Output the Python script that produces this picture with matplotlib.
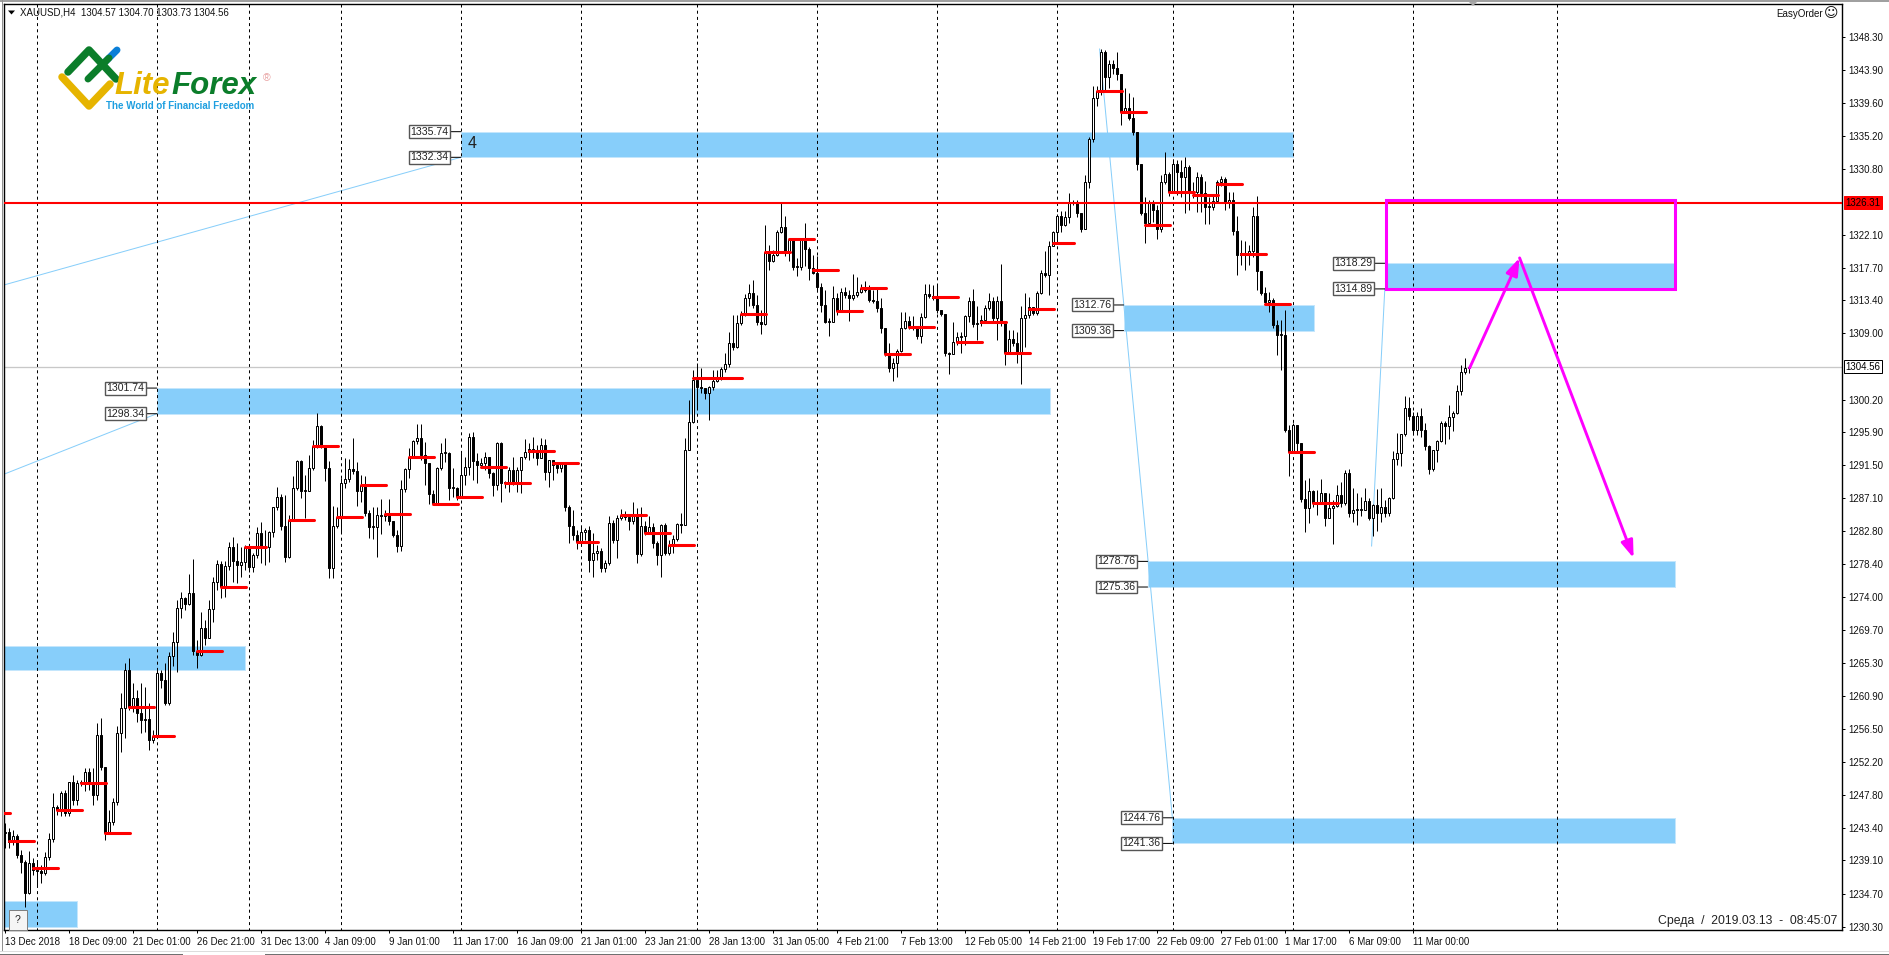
import matplotlib
matplotlib.use("Agg")
import matplotlib.pyplot as plt
from matplotlib.patches import Rectangle, Polygon

plt.rcParams['font.family'] = ['Liberation Sans', 'DejaVu Sans']

# H4 candles, one value per bar, oldest first
closes = [
    1242.9,1241.6,1242.3,1239.8,1238.9,1234.8,1238.8,1237.8,1237.7,1237.4,
    1239.6,1241.9,1246.2,1245.8,1248.0,1245.4,1249.5,1247.1,1249.4,1249.4,
    1250.8,1249.5,1247.8,1255.7,1251.5,1242.7,1244.2,1246.9,1256.0,1259.3,
    1264.4,1259.5,1260.6,1258.6,1257.7,1257.9,1255.1,1255.6,1264.0,1263.0,
    1260.0,1266.2,1268.1,1272.6,1273.9,1273.1,1274.6,1266.9,1266.3,1269.9,
    1268.6,1272.4,1276.0,1278.4,1275.4,1278.2,1280.7,1278.8,1278.3,1278.7,
    1280.7,1278.0,1279.6,1282.5,1280.7,1280.7,1282.7,1286.0,1287.3,1283.4,
    1279.3,1284.2,1288.5,1292.1,1288.1,1288.1,1291.1,1294.1,1296.7,1294.1,
    1291.1,1277.9,1283.4,1284.6,1289.2,1289.7,1291.0,1290.7,1288.1,1288.9,
    1285.2,1283.3,1283.3,1284.9,1284.8,1285.0,1284.1,1282.3,1280.8,1288.4,
    1291.0,1292.6,1294.7,1295.1,1292.9,1291.8,1287.7,1286.5,1291.1,1293.1,
    1293.1,1288.5,1288.5,1287.3,1290.2,1291.3,1295.3,1292.1,1291.5,1291.8,
    1292.6,1290.5,1288.9,1294.5,1289.2,1289.2,1290.9,1289.3,1290.9,1292.6,
    1293.3,1293.7,1293.3,1292.5,1294.2,1290.6,1292.2,1291.5,1291.1,1291.8,
    1286.0,1283.4,1282.3,1281.3,1282.7,1282.9,1278.9,1279.9,1280.1,1277.9,
    1278.5,1283.8,1281.6,1284.5,1284.9,1284.6,1284.1,1284.9,1279.7,1283.4,
    1282.6,1283.3,1281.2,1279.6,1283.6,1279.9,1280.9,1281.7,1283.7,1283.6,
    1293.5,1297.2,1302.8,1301.9,1301.7,1301.1,1301.9,1302.7,1303.2,1304.3,
    1304.9,1307.7,1307.2,1310.4,1311.6,1313.7,1314.3,1312.8,1310.5,1310.2,
    1319.8,1318.6,1319.4,1322.4,1323.1,1319.8,1321.4,1317.8,1317.8,1321.4,
    1320.2,1317.7,1317.0,1315.1,1312.8,1310.5,1310.5,1313.7,1312.0,1314.5,
    1314.1,1313.7,1314.1,1314.5,1315.0,1314.7,1313.4,1313.3,1312.4,1309.7,
    1306.4,1304.4,1305.1,1306.7,1309.7,1310.6,1310.0,1309.8,1308.6,1311.2,
    1314.2,1314.0,1313.7,1312.1,1311.6,1306.4,1306.3,1307.9,1308.5,1308.6,
    1311.3,1313.3,1310.2,1310.4,1310.8,1312.4,1313.3,1311.0,1313.3,1310.5,
    1306.4,1308.2,1307.7,1306.4,1311.0,1311.4,1312.5,1311.7,1314.3,1317.0,
    1316.7,1320.6,1322.4,1324.6,1323.4,1324.4,1326.3,1326.4,1324.9,1322.8,
    1329.1,1334.8,1340.2,1341.1,1346.3,1343.0,1344.7,1344.2,1343.4,1338.3,
    1338.9,1337.6,1335.7,1331.5,1324.9,1323.6,1326.4,1325.4,1322.8,1329.1,
    1330.1,1327.7,1331.5,1330.4,1329.7,1331.1,1327.7,1327.7,1329.7,1327.6,
    1325.8,1325.8,1326.5,1329.1,1329.5,1326.4,1326.7,1322.6,1319.4,1319.7,
    1319.4,1319.9,1324.6,1317.3,1314.3,1313.2,1313.4,1310.1,1308.8,1308.8,
    1296.2,1293.3,1296.8,1294.4,1287.0,1285.8,1288.1,1286.5,1286.4,1287.8,
    1284.5,1285.8,1286.1,1287.6,1286.5,1290.5,1285.2,1285.6,1285.6,1285.6,
    1286.8,1284.5,1286.2,1285.2,1286.0,1285.2,1287.2,1292.3,1293.1,1295.6,
    1299.1,1298.0,1296.2,1298.0,1296.2,1294.1,1291.0,1293.5,1294.7,1297.1,
    1296.7,1297.9,1298.4,1301.4,1303.9,1304.4,1304.56]
highs = [
    1244.1,1243.4,1243.1,1242.6,1240.5,1239.2,1240.4,1239.4,1239.2,1238.5,
    1240.2,1242.7,1248.0,1246.5,1248.3,1248.4,1249.5,1250.4,1249.8,1249.8,
    1251.4,1251.4,1251.4,1257.3,1258.0,1251.5,1245.8,1247.4,1256.9,1261.3,
    1265.3,1265.9,1262.6,1261.7,1262.6,1262.1,1260.0,1256.4,1264.4,1264.4,
    1265.3,1266.7,1269.4,1273.6,1274.7,1274.0,1277.1,1279.1,1268.3,1272.0,
    1271.0,1273.6,1276.7,1278.9,1278.8,1278.8,1281.3,1282.0,1281.2,1280.7,
    1280.9,1280.5,1279.9,1283.3,1284.0,1282.9,1282.8,1286.0,1288.6,1287.7,
    1287.6,1284.9,1290.1,1292.2,1292.2,1290.2,1292.9,1294.9,1298.4,1296.8,
    1294.2,1292.1,1286.1,1286.0,1289.8,1292.5,1292.3,1295.1,1291.9,1290.2,
    1290.1,1285.6,1286.0,1286.0,1287.0,1285.6,1287.0,1284.1,1282.9,1289.6,
    1291.1,1293.8,1294.9,1297.0,1297.0,1294.6,1291.8,1288.2,1291.3,1294.4,
    1295.1,1293.3,1291.1,1288.6,1293.1,1292.6,1295.8,1295.9,1293.1,1292.5,
    1293.3,1292.6,1290.6,1294.6,1294.6,1289.4,1291.3,1292.6,1291.3,1292.6,
    1295.0,1294.5,1295.3,1294.2,1295.1,1295.0,1292.2,1292.2,1291.7,1291.8,
    1291.8,1286.2,1285.6,1282.9,1283.5,1283.2,1283.5,1282.5,1280.9,1280.5,
    1278.9,1284.8,1284.2,1284.9,1285.7,1285.4,1284.8,1286.6,1285.8,1286.0,
    1284.1,1284.8,1283.9,1281.5,1283.7,1283.9,1281.6,1282.3,1283.9,1285.2,
    1295.1,1300.2,1304.1,1305.1,1304.4,1301.7,1302.0,1304.1,1304.1,1304.5,
    1306.4,1309.2,1311.4,1311.4,1312.0,1314.2,1315.5,1316.1,1314.1,1312.1,
    1323.4,1320.7,1320.0,1322.7,1326.3,1324.6,1321.6,1321.0,1319.0,1321.6,
    1323.6,1320.4,1319.4,1319.3,1315.7,1314.7,1311.0,1315.3,1314.3,1315.0,
    1315.1,1314.7,1316.9,1316.5,1315.5,1315.9,1315.4,1314.7,1314.9,1313.7,
    1309.7,1307.7,1305.7,1306.9,1311.8,1311.8,1311.3,1311.3,1310.0,1311.7,
    1315.5,1315.5,1315.4,1315.4,1312.1,1311.6,1306.5,1310.5,1309.2,1309.2,
    1311.4,1313.8,1314.9,1312.6,1311.4,1312.8,1314.3,1313.8,1313.9,1318.2,
    1310.5,1309.4,1309.4,1309.2,1312.6,1314.3,1313.8,1312.5,1314.6,1317.4,
    1319.9,1321.2,1322.6,1324.8,1325.2,1325.2,1327.6,1326.7,1326.7,1324.9,
    1330.0,1335.0,1341.8,1341.8,1346.7,1346.6,1345.2,1345.2,1346.3,1343.4,
    1341.5,1340.9,1340.3,1335.7,1331.5,1327.1,1326.7,1326.7,1326.0,1330.0,
    1333.0,1330.4,1332.1,1332.0,1332.0,1332.4,1331.3,1329.1,1330.4,1330.1,
    1329.2,1327.1,1327.3,1329.3,1329.9,1329.7,1327.7,1327.7,1324.6,1321.4,
    1321.2,1320.7,1325.8,1327.2,1317.3,1315.1,1314.5,1313.7,1310.8,1310.8,
    1312.1,1296.8,1297.1,1296.8,1294.4,1289.5,1289.8,1288.2,1288.2,1289.7,
    1287.8,1287.8,1286.9,1288.9,1289.3,1290.9,1291.0,1288.5,1287.8,1287.3,
    1288.5,1287.1,1286.4,1288.4,1288.5,1286.9,1287.3,1293.4,1295.8,1295.6,
    1300.7,1300.6,1298.6,1298.6,1299.1,1297.1,1294.2,1293.5,1294.9,1297.4,
    1297.4,1299.5,1298.7,1302.1,1304.8,1305.7,1304.70]
lows = [
    1240.8,1240.8,1241.2,1239.4,1237.4,1232.9,1234.7,1237.2,1235.6,1236.1,
    1237.2,1239.2,1241.5,1245.1,1245.0,1245.0,1245.0,1246.4,1246.4,1249.0,
    1248.3,1248.4,1246.4,1247.1,1251.1,1241.8,1243.1,1243.8,1246.4,1253.5,
    1255.3,1259.1,1258.8,1257.5,1256.0,1256.1,1253.7,1254.7,1256.9,1262.0,
    1259.7,1259.7,1264.9,1264.1,1271.2,1272.3,1273.0,1266.3,1264.6,1266.2,
    1267.7,1270.6,1270.7,1275.0,1273.9,1274.0,1277.6,1276.0,1275.9,1276.7,
    1277.6,1277.4,1277.4,1279.2,1278.5,1278.3,1278.7,1282.0,1285.6,1282.9,
    1278.7,1279.2,1286.2,1288.2,1287.2,1284.5,1288.2,1290.9,1293.8,1293.8,
    1289.4,1276.6,1276.6,1283.2,1282.5,1288.5,1289.3,1290.3,1286.1,1286.6,
    1284.8,1281.9,1281.7,1279.3,1282.4,1284.1,1283.6,1282.0,1280.0,1280.1,
    1287.9,1289.8,1292.7,1294.3,1292.2,1288.9,1286.4,1286.4,1286.2,1290.9,
    1291.9,1286.9,1287.3,1286.9,1287.2,1288.9,1290.2,1289.5,1289.2,1291.1,
    1290.9,1289.8,1287.4,1288.2,1286.6,1288.5,1287.9,1288.9,1287.9,1287.8,
    1292.3,1292.2,1292.5,1291.5,1292.5,1289.5,1288.6,1289.5,1290.5,1290.6,
    1285.4,1281.2,1281.6,1280.4,1280.9,1281.6,1277.4,1276.7,1278.9,1277.4,
    1277.4,1278.3,1281.2,1279.2,1284.2,1284.2,1282.9,1283.7,1278.5,1279.5,
    1282.3,1282.5,1280.5,1278.3,1276.7,1279.6,1279.6,1279.9,1281.5,1282.5,
    1283.6,1293.5,1297.1,1299.1,1301.1,1300.3,1297.5,1301.5,1302.5,1302.8,
    1303.9,1304.5,1306.8,1307.1,1310.1,1311.3,1312.6,1312.4,1310.1,1308.9,
    1310.1,1317.4,1318.5,1319.3,1322.3,1319.3,1318.6,1317.4,1316.6,1317.4,
    1317.9,1316.1,1316.9,1314.7,1311.8,1310.4,1308.6,1310.5,1311.4,1312.0,
    1313.7,1310.6,1313.4,1313.8,1314.3,1314.5,1313.2,1313.0,1311.8,1309.0,
    1306.0,1303.9,1302.7,1303.2,1306.5,1309.6,1309.6,1309.4,1308.2,1307.7,
    1311.0,1313.7,1313.4,1311.7,1311.3,1306.0,1303.6,1306.3,1307.5,1306.4,
    1307.5,1310.5,1309.8,1308.1,1310.0,1310.5,1312.1,1310.5,1308.1,1310.0,
    1304.8,1306.3,1307.3,1305.1,1302.3,1307.2,1311.0,1311.4,1311.4,1314.2,
    1316.5,1314.1,1320.6,1321.1,1322.4,1323.2,1323.6,1326.0,1324.4,1322.4,
    1322.8,1328.3,1334.4,1339.1,1340.6,1341.3,1341.5,1343.4,1342.6,1336.6,
    1338.3,1337.3,1335.3,1330.7,1324.7,1321.0,1323.4,1323.8,1321.5,1322.4,
    1328.8,1327.2,1327.7,1327.3,1327.1,1324.9,1325.4,1326.9,1325.1,1325.1,
    1323.5,1323.5,1325.4,1326.3,1328.5,1325.4,1325.6,1322.0,1316.7,1318.1,
    1317.4,1318.1,1319.1,1314.7,1314.1,1312.8,1311.8,1309.7,1306.1,1304.1,
    1295.9,1290.1,1293.3,1293.3,1286.6,1282.7,1283.9,1286.0,1284.9,1286.5,
    1283.5,1284.5,1281.1,1286.0,1286.0,1286.2,1284.6,1284.0,1283.6,1284.8,
    1285.6,1284.2,1282.1,1282.8,1284.0,1284.6,1284.8,1287.0,1291.5,1291.4,
    1295.4,1297.5,1295.5,1295.5,1295.2,1293.5,1290.3,1290.7,1291.9,1294.6,
    1294.3,1295.0,1296.1,1298.3,1300.8,1303.6,1303.73]
first_open = 1242.7

# daily open markers (start bar, price), short ones are the day before a weekend
level_starts = [-5,1,7,13,19,25,31,37,48,54,60,71,77,83,89,95,101,107,113,119,125,131,137,143,
                154,160,166,172,178,184,190,196,202,208,214,220,226,232,238,244,250,256,262,
                273,279,285,291,297,303,309,315,321,327]
level_prices = [1245.4,1241.7,1238.1,1245.8,1249.4,1242.7,1259.4,1255.6,1266.9,1275.4,1280.7,
                1284.2,1294.1,1284.6,1288.9,1285.0,1292.6,1286.4,1287.3,1291.3,1289.2,1293.4,
                1291.8,1281.3,1284.9,1282.5,1280.9,1303.1,1303.1,1311.6,1319.8,1321.5,1317.4,
                1312.0,1315.0,1306.3,1309.8,1313.8,1307.9,1310.5,1306.4,1312.2,1321.0,1341.1,
                1338.3,1323.4,1327.7,1327.3,1328.8,1319.5,1312.9,1293.3,1286.5]
short_levels = [37, 60, 143, 262]

# zones: left bar, right bar, top price, bottom price
zone_left = [-0.3, -0.3, 38, 114, 279.7, 345, 285.7, 291.9]
zone_right = [18, 60, 261.4, 322, 327.4, 417.5, 417.5, 417.5]
zone_top = [1233.7, 1267.6, 1301.74, 1335.74, 1312.76, 1318.29, 1278.76, 1244.76]
zone_bottom = [1230.3, 1264.3, 1298.34, 1332.34, 1309.36, 1314.89, 1275.36, 1241.36]
tagged_zones = [2, 3, 4, 5, 6, 7]

# thin trend lines: bar and price at each end
trend_x0 = [-0.3, -0.3, 273.7, 341.7]
trend_y0 = [1315.4, 1290.3, 1346.7, 1280.8]
trend_x1 = [114, 38, 291.9, 345]
trend_y1 = [1332.34, 1298.34, 1244.76, 1314.89]

# dashed period separators
separators = [8, 38, 61, 84, 114, 144, 173, 203, 233, 263, 292, 322, 352, 388]

time_labels = ["13 Dec 2018", "18 Dec 09:00", "21 Dec 01:00", "26 Dec 21:00", "31 Dec 13:00",
               "4 Jan 09:00", "9 Jan 01:00", "11 Jan 17:00", "16 Jan 09:00", "21 Jan 01:00",
               "23 Jan 21:00", "28 Jan 13:00", "31 Jan 05:00", "4 Feb 21:00", "7 Feb 13:00",
               "12 Feb 05:00", "14 Feb 21:00", "19 Feb 17:00", "22 Feb 09:00", "27 Feb 01:00",
               "1 Mar 17:00", "6 Mar 09:00", "11 Mar 00:00"]
bars_per_label = 16
price_ticks = [1348.30, 1343.90, 1339.60, 1335.20, 1330.80, 1322.10, 1317.70, 1313.40, 1309.00,
               1300.20, 1295.90, 1291.50, 1287.10, 1282.80, 1278.40, 1274.00, 1269.70, 1265.30,
               1260.90, 1256.50, 1252.20, 1247.80, 1243.40, 1239.10, 1234.70, 1230.30]

resistance = 1326.31
last_price = 1304.56

# forecast box and arrows
box_left, box_right, box_top, box_bottom = 345.2, 417.6, 1326.7, 1314.89
arrow_bars = [366.2, 378.7, 407.2]
arrow_prices = [1304.4, 1319.0, 1279.2]

SKY = '#87CEFA'
MAGENTA = '#FF00FF'
PX = 0.72  # one pixel in points at dpi 100


def draw_candles(ax):
    opens = [first_open] + closes[:-1]
    bars = list(range(len(closes)))
    ax.vlines(bars, lows, highs, color='black', linewidth=PX, zorder=3)
    for i, o, c in zip(bars, opens, closes):
        up = c >= o
        ax.bar(i, max(abs(c - o), 0.1), bottom=min(o, c), width=0.55,
               facecolor='white' if up else 'black', edgecolor='black', linewidth=PX, zorder=4)


def draw_objects(ax):
    for left, right, top, bottom in zip(zone_left, zone_right, zone_top, zone_bottom):
        ax.add_patch(Rectangle((left, bottom), right - left, top - bottom, facecolor=SKY,
                               edgecolor='#C4E6FC', linewidth=PX, zorder=1))
    for x0, y0, x1, y1 in zip(trend_x0, trend_y0, trend_x1, trend_y1):
        ax.plot([x0, x1], [y0, y1], color=SKY, linewidth=PX, zorder=1.5)
    ax.vlines(separators, 1229, 1353, color='black', linewidth=PX, linestyles=(0, (3, 3.2)), zorder=2)
    ax.axhline(last_price, color='#C8C8C8', linewidth=PX * 1.3, zorder=2)

    for start, price in zip(level_starts, level_prices):
        length = 5.25 if start in short_levels else 6.25
        ax.plot([start, start + length], [price, price], color='red', linewidth=2.2,
                solid_capstyle='round', zorder=5)
    ax.axhline(resistance, color='red', linewidth=1.5, zorder=5)

    # price tags left of the zones
    for i in tagged_zones:
        for price in (zone_top[i], zone_bottom[i]):
            ax.annotate(f"{price:.2f}", xy=(zone_left[i], price), xytext=(-8.8, 0),
                        textcoords='offset points', ha='right', va='center', fontsize=7.6, color='#222222',
                        arrowprops=dict(arrowstyle='-', color='black', linewidth=PX, shrinkA=0, shrinkB=0),
                        bbox=dict(boxstyle='square,pad=0.14', facecolor='white', edgecolor='#555555',
                                  linewidth=1.0), zorder=6)
    ax.text(115.7, 1334.2, "4", fontsize=11.5, va='center', color='#222222', zorder=6)

    ax.add_patch(Rectangle((box_left, box_bottom), box_right - box_left, box_top - box_bottom,
                           fill=False, edgecolor=MAGENTA, linewidth=2.2, zorder=7))
    for k in (0, 1):
        ax.annotate("", xy=(arrow_bars[k + 1], arrow_prices[k + 1]), xytext=(arrow_bars[k], arrow_prices[k]),
                    arrowprops=dict(arrowstyle='-|>,head_length=0.8,head_width=0.28', color=MAGENTA,
                                    linewidth=2.1, mutation_scale=13, shrinkA=0, shrinkB=0), zorder=7)


def setup_axes(ax):
    ax.set_xlim(-0.125, 459.3)
    ax.set_ylim(1229.88, 1352.63)
    ax.yaxis.tick_right()
    ax.set_yticks(price_ticks)
    ax.set_yticklabels([f"{p:.2f}" for p in price_ticks], fontsize=7, color='#111111')
    ax.set_xticks([i * bars_per_label for i in range(len(time_labels))])
    ax.set_xticklabels(time_labels, fontsize=7, color='#111111', ha='left')
    ax.tick_params(axis='both', length=2.5, width=PX, pad=2)
    ax.tick_params(axis='x', pad=2.2)
    for spine in ax.spines.values():
        spine.set_linewidth(1.0)

    # current price boxes on the right axis
    trans = ax.get_yaxis_transform()
    ax.text(1.0018, resistance, f"{resistance:.2f}", transform=trans, fontsize=7, va='center', ha='left',
            clip_on=False, bbox=dict(boxstyle='square,pad=0.17', facecolor='red', edgecolor='red', linewidth=PX))
    ax.text(1.0018, last_price, f"{last_price:.2f}", transform=trans, fontsize=7, va='center', ha='left',
            clip_on=False, bbox=dict(boxstyle='square,pad=0.17', facecolor='white', edgecolor='black', linewidth=PX))


def draw_overlay(fig):
    # window chrome, header text and the logo, in image pixels
    ov = fig.add_axes([0, 0, 1, 1], zorder=10)
    ov.set_xlim(0, 1890)
    ov.set_ylim(955, 0)
    ov.axis('off')
    ov.patch.set_alpha(0)

    ov.add_patch(Rectangle((0, 0), 1890, 2, facecolor='#A0A0A0', edgecolor='none'))
    ov.plot([1.5, 1.5], [0, 950], color='#909090', linewidth=PX)
    ov.plot([0, 182], [954, 954], color='#707070', linewidth=PX)
    ov.plot([265, 1890], [954, 954], color='#707070', linewidth=PX)
    ov.plot([0, 1890], [951, 951], color='#DDDDDD', linewidth=PX)
    ov.add_patch(Polygon([[1469, 2], [1477, 2], [1473, 6]], facecolor='#A8A8A8', edgecolor='none'))

    ov.add_patch(Polygon([[8, 10.5], [15, 10.5], [11.5, 14.5]], facecolor='black', edgecolor='none'))
    ov.text(20, 12.8, "XAUUSD,H4  1304.57 1304.70 1303.73 1304.56", fontsize=7, va='center', color='#111111')
    ov.text(1823, 14, "EasyOrder", fontsize=7, va='center', ha='right', color='#111111')
    ov.text(1831, 13.5, "\u263A", fontsize=10, va='center', ha='center', color='#111111', family='DejaVu Sans')
    ov.text(1837, 921, "Среда  /  2019.03.13  -  08:45:07", fontsize=8.8, va='center', ha='right', color='#222222')

    # help button, bottom left
    ov.add_patch(Rectangle((8.5, 910), 18, 20, facecolor='#F5F5F5', edgecolor='#808080', linewidth=PX))
    ov.text(17.5, 920, "?", fontsize=7.5, ha='center', va='center', color='#222222')

    # logo
    green, yellow, blue = '#0B7D2A', '#E6B400', '#0A7FD8'
    ov.plot([103, 117], [64, 50], color=blue, linewidth=5, solid_capstyle='round')
    ov.plot([68, 89, 116], [72, 50, 79], color=green, linewidth=5.4, solid_capstyle='round', solid_joinstyle='round')
    ov.plot([88, 109], [79, 58], color=green, linewidth=5, solid_capstyle='round')
    ov.plot([62, 89, 110], [77, 106, 84], color=yellow, linewidth=5.4, solid_capstyle='round', solid_joinstyle='round')
    ov.text(114, 86.5, "Lite", fontsize=22.5, style='italic', weight='bold', color=yellow, va='center', ha='left')
    ov.text(171.5, 86.5, "Forex", fontsize=22.5, style='italic', weight='bold', color=green, va='center', ha='left')
    ov.text(106, 106, "The World of Financial Freedom", fontsize=7, weight='bold', color='#1E9FE0',
            va='center', ha='left')
    ov.text(267, 78, "\u00AE", fontsize=7.5, color='#E8A0A0', va='center', ha='center')


def main():
    assert len(closes) == len(highs) == len(lows)
    fig = plt.figure(figsize=(18.9, 9.55), dpi=100, facecolor='white')
    ax = fig.add_axes([4.3 / 1890, 1 - 930 / 955, (1842 - 4.3) / 1890, (930 - 4.3) / 955])
    draw_objects(ax)
    draw_candles(ax)
    setup_axes(ax)
    draw_overlay(fig)
    fig.savefig("out.png", dpi=100)


if __name__ == "__main__":
    main()
